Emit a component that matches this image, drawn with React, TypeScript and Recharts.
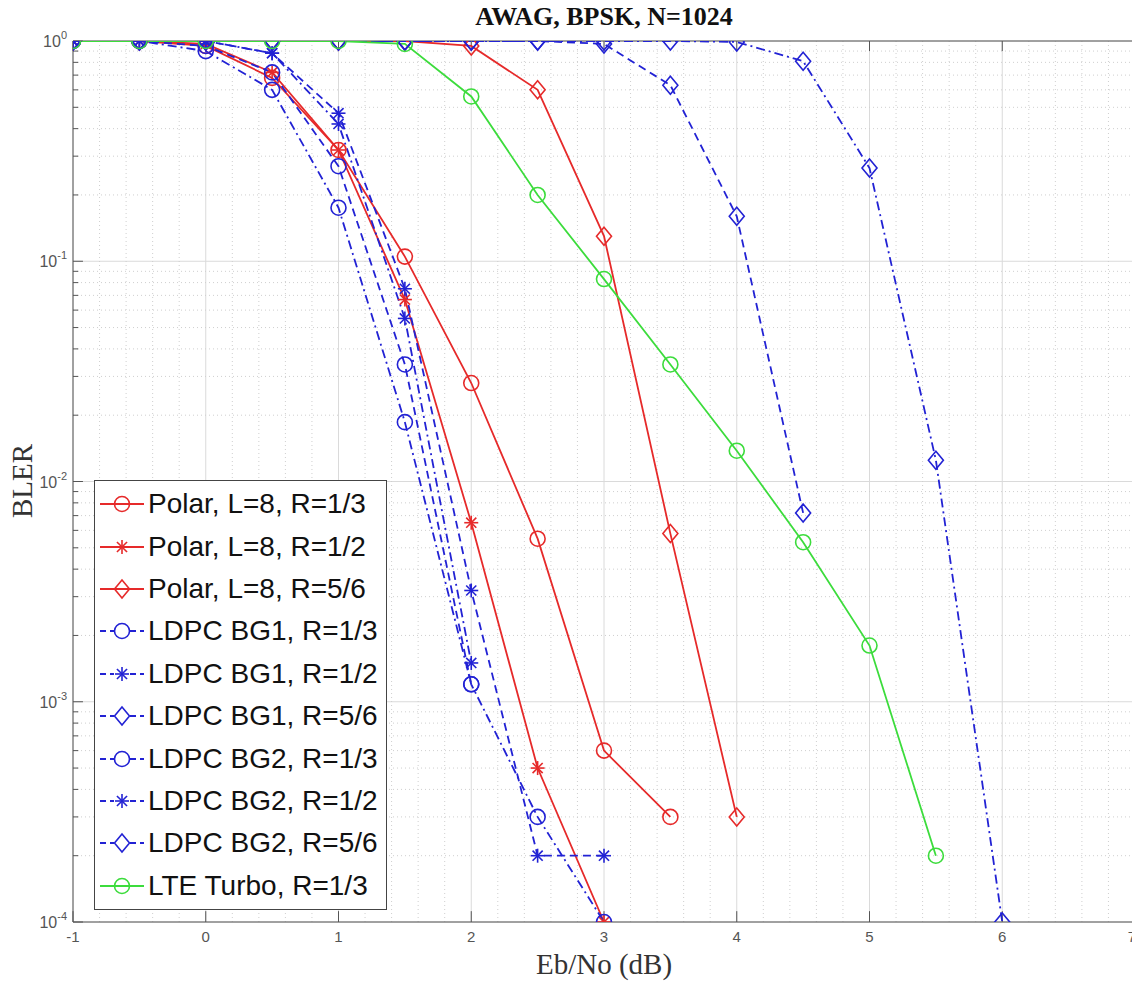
import React from "react";
import { LineChart, Line, XAxis, YAxis, CartesianGrid, ReferenceLine, Legend } from "recharts";

// Eb/No points (dB)
const ebno = [-1, -0.5, 0, 0.5, 1, 1.5, 2, 2.5, 3, 3.5, 4, 4.5, 5, 5.5, 6];

// BLER (null = not plotted)
const polarR13 = [1, 1, 0.95, 0.68, 0.32, 0.105, 0.028, 0.0055, 0.0006, 0.0003, null, null, null, null, null];
const polarR12 = [1, 1, 0.97, 0.72, 0.32, 0.067, 0.0065, 0.0005, 0.0001, null, null, null, null, null, null];
const polarR56 = [1, 1, 1, 1, 1, 1, 0.95, 0.6, 0.13, 0.0058, 0.0003, null, null, null, null];
const bg1R13 = [1, 1, 0.95, 0.72, 0.27, 0.034, 0.0012, null, null, null, null, null, null, null, null];
const bg1R12 = [1, 1, 1, 0.88, 0.47, 0.075, 0.0032, 0.0002, 0.0002, null, null, null, null, null, null];
const bg1R56 = [1, 1, 1, 1, 1, 1, 1, 1, 0.97, 0.63, 0.16, 0.0072, null, null, null];
const bg2R13 = [1, 1, 0.9, 0.6, 0.175, 0.0186, 0.0012, 0.0003, 0.0001, null, null, null, null, null, null];
const bg2R12 = [1, 1, 1, 0.88, 0.42, 0.055, 0.0015, null, null, null, null, null, null, null, null];
const bg2R56 = [1, 1, 1, 1, 1, 1, 1, 1, 1, 1, 0.99, 0.81, 0.265, 0.0125, 0.0001];
const turboR13 = [1, 1, 1, 1, 1, 0.97, 0.56, 0.2, 0.083, 0.034, 0.0138, 0.0053, 0.0018, 0.0002, null];

const xTicks = [-1, 0, 1, 2, 3, 4, 5, 6, 7];
const yTicks = [1e-4, 1e-3, 1e-2, 1e-1, 1];

const RED = "#e62a2a";
const BLUE = "#2222d4";
const GREEN = "#3cdc3c";
const DASH = "8 5";
const DASHDOT = "9 4 2 4";

type Shape = "circle" | "star" | "diamond";

const series: { key: string; name: string; values: (number | null)[]; color: string; dash?: string; shape: Shape }[] = [
  { key: "polarR13", name: "Polar, L=8, R=1/3", values: polarR13, color: RED, shape: "circle" },
  { key: "polarR12", name: "Polar, L=8, R=1/2", values: polarR12, color: RED, shape: "star" },
  { key: "polarR56", name: "Polar, L=8, R=5/6", values: polarR56, color: RED, shape: "diamond" },
  { key: "bg1R13", name: "LDPC BG1, R=1/3", values: bg1R13, color: BLUE, dash: DASH, shape: "circle" },
  { key: "bg1R12", name: "LDPC BG1, R=1/2", values: bg1R12, color: BLUE, dash: DASH, shape: "star" },
  { key: "bg1R56", name: "LDPC BG1, R=5/6", values: bg1R56, color: BLUE, dash: DASH, shape: "diamond" },
  { key: "bg2R13", name: "LDPC BG2, R=1/3", values: bg2R13, color: BLUE, dash: DASHDOT, shape: "circle" },
  { key: "bg2R12", name: "LDPC BG2, R=1/2", values: bg2R12, color: BLUE, dash: DASHDOT, shape: "star" },
  { key: "bg2R56", name: "LDPC BG2, R=5/6", values: bg2R56, color: BLUE, dash: DASHDOT, shape: "diamond" },
  { key: "turboR13", name: "LTE Turbo, R=1/3", values: turboR13, color: GREEN, shape: "circle" },
];

const data = ebno.map((x, i) => {
  const row: Record<string, number | null> = { x };
  series.forEach((s) => (row[s.key] = s.values[i]));
  return row;
});

// minor grid positions
const xMinor: number[] = [];
for (let i = -1; i < 7; i++) for (let j = 1; j < 5; j++) xMinor.push(+(i + j * 0.2).toFixed(1));
const yMinor: number[] = [];
for (let e = -4; e < 0; e++) for (let m = 2; m < 10; m++) yMinor.push(m * Math.pow(10, e));

const FONT = "'Liberation Sans', Arial, sans-serif";
const SERIF = "'Liberation Serif', 'Times New Roman', serif";

function Marker({ shape, cx, cy, color }: { shape: Shape; cx: number; cy: number; color: string }) {
  if (shape === "circle") return <circle cx={cx} cy={cy} r={7.5} fill="none" stroke={color} strokeWidth={1.6} />;
  if (shape === "diamond")
    return (
      <polygon
        points={`${cx},${cy - 9} ${cx + 7.5},${cy} ${cx},${cy + 9} ${cx - 7.5},${cy}`}
        fill="none"
        stroke={color}
        strokeWidth={1.6}
      />
    );
  const r = 7;
  const d = r * 0.72;
  return (
    <g stroke={color} strokeWidth={1.6}>
      <line x1={cx} y1={cy - r} x2={cx} y2={cy + r} />
      <line x1={cx - r} y1={cy} x2={cx + r} y2={cy} />
      <line x1={cx - d} y1={cy - d} x2={cx + d} y2={cy + d} />
      <line x1={cx - d} y1={cy + d} x2={cx + d} y2={cy - d} />
    </g>
  );
}

const makeDot = (shape: Shape, color: string, key: string) => (props: any) => {
  const { cx, cy, index } = props;
  if (cx == null || cy == null || isNaN(cx) || isNaN(cy)) return <g key={`${key}-${index}`} />;
  return (
    <g key={`${key}-${index}`}>
      <Marker shape={shape} cx={cx} cy={cy} color={color} />
    </g>
  );
};

const YTick = ({ x, y, payload }: any) => {
  const exp = Math.round(Math.log10(payload.value));
  return (
    <text x={x} y={y + 6} textAnchor="end" fill="#555" fontFamily={FONT} fontSize={16}>
      <tspan>10</tspan>
      <tspan dy={-8} fontSize={11}>
        {exp}
      </tspan>
    </text>
  );
};

const XTick = ({ x, y, payload }: any) => (
  <text x={x} y={y + 12} textAnchor="middle" fill="#555" fontFamily={FONT} fontSize={15}>
    {payload.value}
  </text>
);

const renderLegend = () => (
  <div
    style={{
      border: "1.5px solid #444",
      background: "#fff",
      padding: "2px 8px 2px 4px",
      fontFamily: FONT,
      fontSize: 28,
      color: "#111",
    }}
  >
    {series.map((s) => (
      <div key={s.key} style={{ display: "flex", alignItems: "center", height: 42.4 }}>
        <svg width={46} height={24} style={{ marginRight: 3 }}>
          <line x1={1} y1={12} x2={45} y2={12} stroke={s.color} strokeWidth={1.8} strokeDasharray={s.dash ? "6 4" : undefined} />
          <rect x={15} y={2} width={16} height={20} fill="#fff" opacity={s.dash ? 1 : 0} />
          <Marker shape={s.shape} cx={23} cy={12} color={s.color} />
        </svg>
        <span style={{ whiteSpace: "nowrap" }}>{s.name}</span>
      </div>
    ))}
  </div>
);

export default function App() {
  return (
    <div style={{ position: "absolute", left: 0, top: 0, width: 1132, height: 984, overflow: "hidden", background: "#fff" }}>
      <LineChart width={1136} height={984} data={data} margin={{ top: 41, right: 1, bottom: 22, left: 13 }}>
        <CartesianGrid stroke="#dadada" strokeWidth={1} />
        {xMinor.map((v) => (
          <ReferenceLine key={`xm${v}`} x={v} stroke="#cfcfcf" strokeDasharray="1 3" />
        ))}
        {yMinor.map((v) => (
          <ReferenceLine key={`ym${v}`} y={v} stroke="#cfcfcf" strokeDasharray="1 3" />
        ))}
        <XAxis
          type="number"
          dataKey="x"
          domain={[-1, 7]}
          ticks={xTicks}
          allowDataOverflow
          stroke="#555"
          tickLine={false}
          tick={<XTick />}
          height={40}
        />
        <YAxis
          type="number"
          scale="log"
          domain={[1e-4, 1]}
          ticks={yTicks}
          allowDataOverflow
          stroke="#555"
          tickLine={false}
          tickSize={0}
          tickMargin={6}
          tick={<YTick />}
          width={60}
        />
        <ReferenceLine y={1} stroke="#555" />
        {yTicks.map((v) => (
          <ReferenceLine key={`yt${v}`} segment={[{ x: -1, y: v }, { x: -0.925, y: v }]} stroke="#555" />
        ))}
        {yMinor.map((v) => (
          <ReferenceLine key={`ymt${v}`} segment={[{ x: -1, y: v }, { x: -0.96, y: v }]} stroke="#555" />
        ))}
        {xTicks.map((v) => (
          <ReferenceLine key={`xb${v}`} segment={[{ x: v, y: 1e-4 }, { x: v, y: 1.12e-4 }]} stroke="#555" />
        ))}
        {xTicks.map((v) => (
          <ReferenceLine key={`xt${v}`} segment={[{ x: v, y: 1 }, { x: v, y: 0.9 }]} stroke="#555" />
        ))}
        {series.map((s) => (
          <Line
            key={s.key}
            type="linear"
            dataKey={s.key}
            name={s.name}
            stroke={s.color}
            strokeWidth={1.8}
            strokeDasharray={s.dash}
            dot={makeDot(s.shape, s.color, s.key)}
            activeDot={false}
            isAnimationActive={false}
            connectNulls={false}
          />
        ))}
        <Legend
          layout="vertical"
          align="center"
          verticalAlign="middle"
          content={renderLegend}
          wrapperStyle={{ left: 94, top: 480, width: "auto", height: "auto" }}
        />
      </LineChart>
      <div
        style={{
          position: "absolute",
          left: 0,
          width: 1208,
          top: 2,
          textAlign: "center",
          fontFamily: SERIF,
          fontWeight: "bold",
          fontSize: 26,
          color: "#111",
        }}
      >
        AWAG, BPSK, N=1024
      </div>
      <div
        style={{
          position: "absolute",
          left: 0,
          width: 1208,
          top: 948,
          textAlign: "center",
          fontFamily: SERIF,
          fontSize: 29,
          color: "#333",
        }}
      >
        Eb/No (dB)
      </div>
      <div
        style={{
          position: "absolute",
          left: 22,
          top: 481,
          transform: "translate(-50%, -50%) rotate(-90deg)",
          fontFamily: SERIF,
          fontSize: 29,
          color: "#333",
          whiteSpace: "nowrap",
        }}
      >
        BLER
      </div>
    </div>
  );
}
